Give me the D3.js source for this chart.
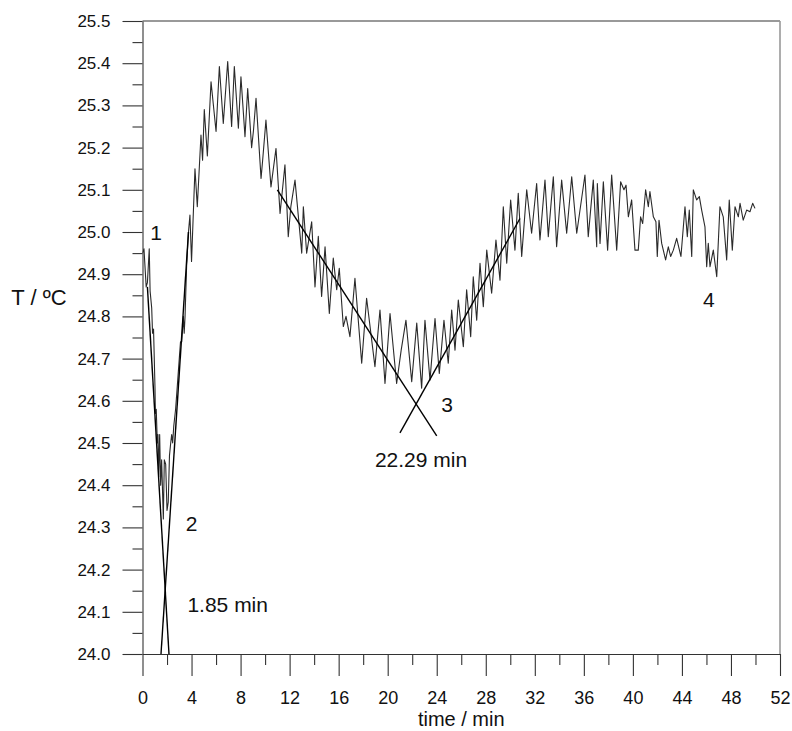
<!DOCTYPE html>
<html>
<head>
<meta charset="utf-8">
<script src="https://cdn.jsdelivr.net/npm/d3@7"></script>
<style>
  body { margin: 0; background: #fff; }
  svg { font-family: "Liberation Sans", Arial, sans-serif; }
</style>
</head>
<body>
<svg width="792" height="731"></svg>
<script>
// temperature trace (time in min, T in degC)
const TIMES = [
  0.0, 0.12, 0.3, 0.4, 0.55, 0.62, 0.75, 0.82, 0.9, 1.02, 1.05, 1.12, 1.21, 1.26, 1.32, 1.4, 1.48, 1.56, 1.7, 1.78,
  1.89, 2.0, 2.1, 2.2, 2.3, 2.38, 2.46, 2.55, 2.7, 2.85, 3.0, 3.1, 3.2, 3.33, 3.4, 3.47, 3.6, 3.75, 3.87, 4.0,
  4.28, 4.47, 4.77, 4.9, 5.04, 5.29, 5.59, 6.0, 6.27, 6.59, 6.95, 7.27, 7.49, 7.82, 8.03, 8.36, 8.58, 8.9, 9.05, 9.26,
  9.67, 9.8, 10.07, 10.48, 10.89, 11.22, 11.62, 11.89, 12.1, 12.44, 12.99, 13.12, 13.39, 13.8, 14.07, 14.34, 14.61, 14.89, 15.24, 15.56,
  15.84, 16.05, 16.38, 16.6, 16.92, 17.33, 17.88, 18.28, 18.96, 19.37, 19.78, 20.19, 20.73, 21.1, 21.49, 21.96, 22.37, 22.77, 23.04, 23.45,
  23.86, 24.21, 24.59, 24.94, 25.22, 25.49, 25.76, 26.17, 26.44, 26.77, 26.98, 27.26, 27.53, 27.8, 28.08, 28.48, 28.83, 29.16, 29.43, 29.71,
  30.03, 30.38, 30.65, 30.93, 31.34, 31.74, 32.15, 32.42, 32.83, 33.1, 33.51, 33.78, 34.19, 34.6, 35.01, 35.42, 36.09, 36.36, 36.77, 37.05,
  37.1, 37.32, 37.59, 37.94, 38.27, 38.68, 39.0, 39.27, 39.44, 39.63, 39.9, 40.17, 40.44, 40.63, 40.8, 41.04, 41.26, 41.39, 41.67, 41.88,
  41.99, 42.13, 42.35, 42.67, 42.89, 43.08, 43.3, 43.57, 43.92, 44.25, 44.44, 44.6, 44.8, 44.93, 45.2, 45.42, 45.61, 45.88, 46.02, 46.15,
  46.29, 46.56, 46.84, 47.1, 47.37, 47.65, 47.86, 48.11, 48.33, 48.6, 48.74, 49.0, 49.28, 49.55, 49.77, 49.96
];
const TEMPS = [
  24.95, 24.96, 24.87, 24.88, 24.96, 24.86, 24.82, 24.76, 24.77, 24.63, 24.57, 24.58, 24.50, 24.52, 24.42, 24.52, 24.40, 24.46, 24.32, 24.46,
  24.45, 24.34, 24.36, 24.47, 24.50, 24.52, 24.50, 24.54, 24.58, 24.64, 24.70, 24.74, 24.74, 24.80, 24.76, 24.80, 24.92, 25.00, 25.04, 24.93,
  25.15, 25.06, 25.23, 25.17, 25.29, 25.18, 25.356, 25.238, 25.392, 25.257, 25.404, 25.25, 25.392, 25.246, 25.368, 25.226, 25.34, 25.20, 25.24, 25.317,
  25.127, 25.17, 25.265, 25.107, 25.198, 25.044, 25.159, 24.989, 25.06, 25.123, 24.95, 25.06, 24.95, 25.024, 24.87, 24.99, 24.847, 24.965, 24.807, 24.938,
  24.863, 24.914, 24.776, 24.80, 24.752, 24.89, 24.689, 24.843, 24.681, 24.815, 24.641, 24.807, 24.641, 24.72, 24.791, 24.645, 24.784, 24.63, 24.791, 24.649,
  24.795, 24.665, 24.791, 24.689, 24.815, 24.72, 24.839, 24.728, 24.863, 24.752, 24.894, 24.791, 24.926, 24.823, 24.957, 24.855, 24.981, 24.886, 25.06, 24.926,
  25.076, 24.957, 25.092, 24.942, 25.10, 24.997, 25.115, 24.981, 25.123, 24.989, 25.131, 24.965, 25.123, 24.997, 25.131, 24.997, 25.135, 24.989, 25.123, 24.965,
  25.115, 24.973, 25.119, 24.957, 25.135, 24.957, 25.119, 25.10, 25.111, 25.036, 25.076, 24.957, 24.957, 25.036, 25.02, 25.10, 25.06, 25.096, 25.036, 25.024,
  24.942, 25.028, 24.973, 24.934, 24.965, 24.942, 24.957, 24.985, 24.942, 25.06, 24.989, 25.052, 24.942, 25.10, 25.076, 25.084, 25.052, 25.012, 24.918, 24.973,
  24.918, 24.957, 24.894, 25.06, 25.036, 24.934, 25.076, 24.957, 25.06, 25.036, 25.068, 25.028, 25.052, 25.048, 25.068, 25.056
];

// tangent lines drawn for the two turning points: [t, T] end points
const FIT_LINES = [
  [[0.4, 24.87], [2.16, 24.0]],
  [[1.51, 24.0], [3.75, 25.0]],
  [[11.0, 25.1], [24.0, 24.517]],
  [[21.0, 24.524], [30.79, 25.032]]
];

// annotation texts and the data point each one is centred on
const NOTE_TEXT = ["1", "2", "1.85 min", "3", "22.29 min", "4"];
const NOTE_AT = [[1.1, 24.998], [4.01, 24.31], [6.95, 24.118], [24.84, 24.59], [22.72, 24.46], [46.2, 24.84]];

const X_MAJOR = d3.range(0, 53, 4);
const X_MINOR = d3.range(2, 52, 4);
const Y_MAJOR = d3.range(0, 16).map(i => +(24 + i * 0.1).toFixed(1));
const Y_MINOR = d3.range(0, 15).map(i => +(24.05 + i * 0.1).toFixed(2));

var svg = d3.select("svg"),
    plotLeft = 142.5, plotRight = 780, plotTop = 21, plotBottom = 654;

var x = d3.scaleLinear().domain([0, 52]).range([plotLeft, plotRight]),
    y = d3.scaleLinear().domain([24.0, 25.5]).range([plotBottom, plotTop]);

// frame (top and right, lighter)
svg.append("line").attr("x1", plotLeft).attr("x2", plotRight).attr("y1", plotTop).attr("y2", plotTop)
   .attr("stroke", "#777").attr("stroke-width", 1.3);
svg.append("line").attr("x1", plotRight).attr("x2", plotRight).attr("y1", plotTop).attr("y2", plotBottom)
   .attr("stroke", "#999").attr("stroke-width", 1.6);

// x axis
var gx = svg.append("g").attr("transform", "translate(0," + plotBottom + ")");
gx.call(d3.axisBottom(x).tickValues(X_MAJOR).tickSize(22).tickSizeOuter(0).tickPadding(15).tickFormat(d3.format("d")));
svg.append("g").attr("transform", "translate(0," + plotBottom + ")")
   .call(d3.axisBottom(x).tickValues(X_MINOR).tickSize(11).tickFormat(""))
   .select(".domain").remove();

// y axis
var gy = svg.append("g").attr("transform", "translate(" + plotLeft + ",0)");
gy.call(d3.axisLeft(y).tickValues(Y_MAJOR).tickSize(20).tickSizeOuter(0).tickPadding(12).tickFormat(d3.format(".1f")));
svg.append("g").attr("transform", "translate(" + plotLeft + ",0)")
   .call(d3.axisLeft(y).tickValues(Y_MINOR).tickSize(10).tickFormat(""))
   .select(".domain").remove();

svg.selectAll(".tick line, .domain").attr("stroke", "#333").attr("stroke-width", 1.1);
gx.selectAll("text").attr("font-size", 18).attr("fill", "#111")
  .attr("font-family", "Liberation Sans, Arial, sans-serif");
gy.selectAll("text").attr("font-size", 17).attr("fill", "#111")
  .attr("font-family", "Liberation Sans, Arial, sans-serif");

svg.append("text")
   .attr("x", (plotLeft + plotRight) / 2).attr("y", 726)
   .attr("text-anchor", "middle").attr("font-size", 20).attr("fill", "#111")
   .text("time / min");

svg.append("text")
   .attr("x", 39).attr("y", 297).attr("dy", "0.35em")
   .attr("text-anchor", "middle").attr("font-size", 22).attr("fill", "#111")
   .text("T / ºC");

// data trace
svg.append("clipPath").attr("id", "plot")
   .append("rect").attr("x", plotLeft).attr("y", plotTop)
   .attr("width", plotRight - plotLeft).attr("height", plotBottom - plotTop);

var pts = TIMES.map(function(t, i) { return [t, TEMPS[i]]; });
var line = d3.line().x(function(d) { return x(d[0]); }).y(function(d) { return y(d[1]); });

svg.append("path")
   .datum(pts)
   .attr("clip-path", "url(#plot)")
   .attr("fill", "none")
   .attr("stroke", "#2a2a2a")
   .attr("stroke-width", 1.1)
   .attr("stroke-linejoin", "round")
   .attr("d", line);

svg.selectAll(".fit")
   .data(FIT_LINES)
   .enter().append("path")
   .attr("class", "fit")
   .attr("fill", "none")
   .attr("stroke", "#000")
   .attr("stroke-width", 1.4)
   .attr("d", line);

svg.selectAll(".note")
   .data(NOTE_TEXT)
   .enter().append("text")
   .attr("class", "note")
   .attr("x", function(d, i) { return x(NOTE_AT[i][0]); })
   .attr("y", function(d, i) { return y(NOTE_AT[i][1]); })
   .attr("dy", "0.35em")
   .attr("text-anchor", "middle")
   .attr("font-size", 21)
   .attr("fill", "#111")
   .text(function(d) { return d; });
</script>
</body>
</html>
